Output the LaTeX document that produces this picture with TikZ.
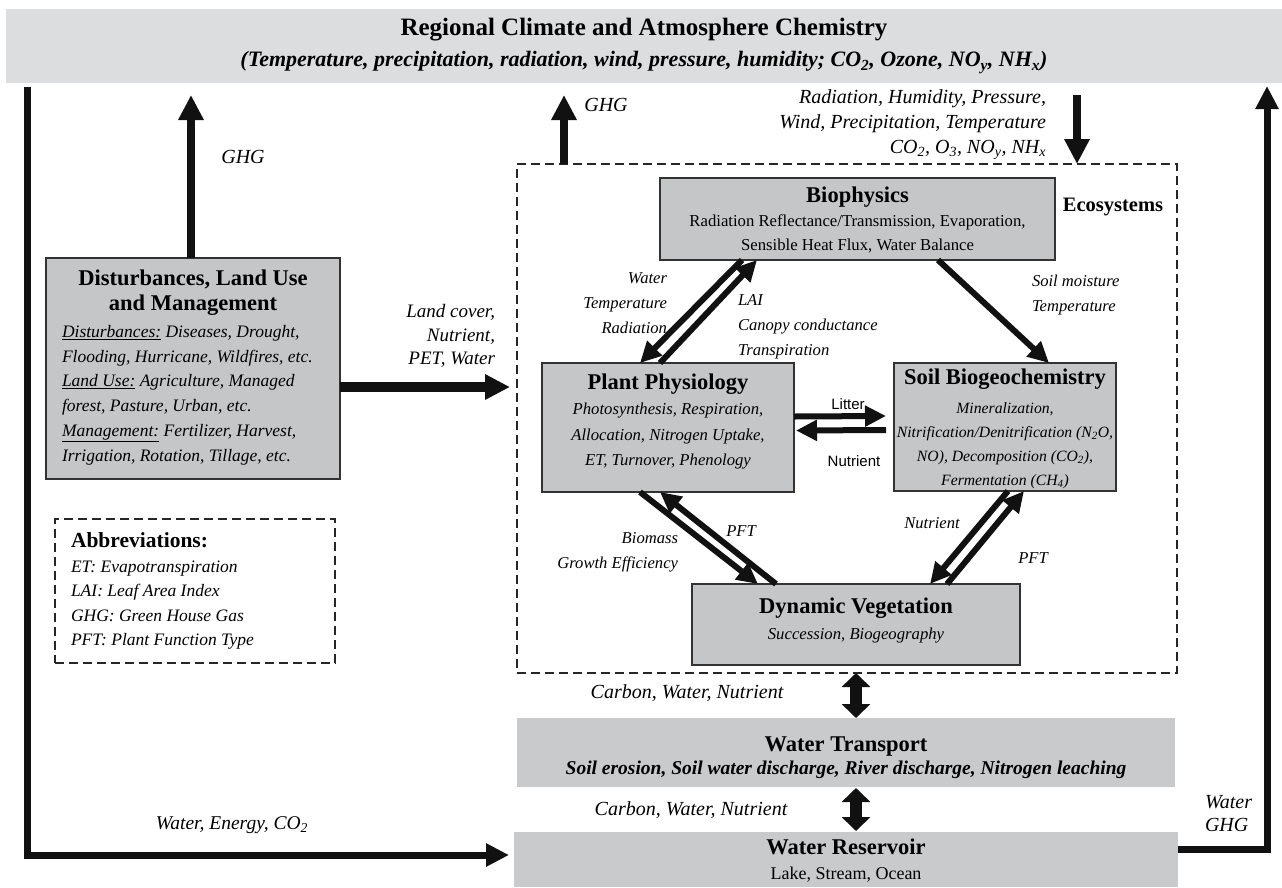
\documentclass[tikz,border=0pt]{standalone}
\usepackage{fontspec}
\setmainfont{Liberation Serif}
\setsansfont{Liberation Sans}
\usetikzlibrary{arrows.meta,calc}
\definecolor{bannergray}{HTML}{DCDDDF}
\definecolor{boxgray}{HTML}{C5C6C8}
\definecolor{flatgray}{HTML}{C9CACC}
\definecolor{ink}{HTML}{111111}
\newcommand{\fsz}[2]{\fontsize{#1}{#2}\selectfont}
\begin{document}
\begin{tikzpicture}[x=1pt,y=-1pt,
  box/.style={draw=black!80, line width=1.6pt, fill=boxgray, inner sep=0pt, outer sep=0pt},
  flat/.style={fill=flatgray, inner sep=0pt, outer sep=0pt},
  dashbox/.style={draw=black!85, line width=1.3pt, dash pattern=on 9pt off 5pt, inner sep=0pt, outer sep=0pt},
  txt/.style={inner sep=0pt, outer sep=0pt},
  lbl/.style={inner sep=0pt, outer sep=0pt, font=\fsz{16.6}{25}\itshape},
  olbl/.style={inner sep=0pt, outer sep=0pt, font=\fsz{20}{25}\itshape},
  fatarrow/.style={draw=ink, line width=8pt, -{Triangle[length=25pt,width=24pt]}},
  loopline/.style={draw=ink, line width=7pt, line cap=butt, line join=miter},
  thinarrow/.style={draw=ink, line width=6pt, -{Triangle[length=21pt,width=20pt]}},
  dblarrow/.style={draw=ink, line width=12pt, {Triangle[length=14pt,width=28pt]}-{Triangle[length=14pt,width=28pt]}},
]
\useasboundingbox (0,0) rectangle (1282,887);

% banner
\node[fill=bannergray, minimum width=1276pt, minimum height=74pt, inner sep=0pt, align=center,
      font=\fsz{25}{31}] (banner) at (644,46)
  {{\bfseries Regional Climate and Atmosphere Chemistry}\\
   {\fsz{22}{31}\bfseries\itshape (Temperature, precipitation, radiation, wind, pressure, humidity; CO\textsubscript{2}, Ozone, NO\textsubscript{y}, NH\textsubscript{x})}};

% ecosystems dashed frame
\node[dashbox, minimum width=660pt, minimum height=509pt] (eco) at (847,418.5) {};
\node[txt, font=\fsz{20.5}{24}\bfseries] (ecolbl) at (1113,207) {Ecosystems};

% boxes inside ecosystems
\node[box, minimum width=395pt, minimum height=82pt] (bio) at (857.5,219) {};
\node[txt, align=center, font=\fsz{16.7}{24}] (biotxt) at (857.5,220)
  {{\fsz{22.5}{24}\bfseries Biophysics}\\
   Radiation Reflectance/Transmission, Evaporation,\\
   Sensible Heat Flux, Water Balance};

\node[box, minimum width=252pt, minimum height=129pt] (pp) at (668,427.5) {};
\node[txt, align=center, font=\fsz{16.7}{25.6}\itshape] (pptxt) at (668,421.5)
  {{\fsz{22.5}{25.6}\upshape\bfseries Plant Physiology}\\
   Photosynthesis, Respiration,\\
   Allocation, Nitrogen Uptake,\\
   ET, Turnover, Phenology};

\node[box, minimum width=222pt, minimum height=128pt] (sb) at (1005,427) {};
\node[txt, align=center, font=\fsz{15.7}{24}\itshape] (sbtxt) at (1005,428.5)
  {{\fsz{22.5}{24}\upshape\bfseries Soil Biogeochemistry}\\[5pt]
   Mineralization,\\
   Nitrification/Denitrification (N\textsubscript{2}O,\\
   NO), Decomposition (CO\textsubscript{2}),\\
   Fermentation (CH\textsubscript{4})};

\node[box, minimum width=328pt, minimum height=81pt] (dv) at (856,624.5) {};
\node[txt, align=center, font=\fsz{16.7}{26}\itshape] (dvtxt) at (856,620)
  {{\fsz{22.5}{26}\upshape\bfseries Dynamic Vegetation}\\
   Succession, Biogeography};

% disturbances box
\node[box, minimum width=294pt, minimum height=221pt] (db) at (193,368.5) {};
\node[txt, align=center, font=\fsz{22.5}{25}\bfseries] (dbtitle) at (193,292.5)
  {Disturbances, Land Use\\ and Management};
\node[txt, align=left, anchor=west, font=\fsz{17.5}{24.8}\itshape] (dbbody) at (62,395)
  {\underline{Disturbances:} Diseases, Drought,\\
   Flooding, Hurricane, Wildfires, etc.\\
   \underline{Land Use:} Agriculture, Managed\\
   forest, Pasture, Urban, etc.\\
   \underline{Management:} Fertilizer, Harvest,\\
   Irrigation, Rotation, Tillage, etc.};

% abbreviations
\node[dashbox, minimum width=280pt, minimum height=144pt] (abbr) at (195,591) {};
\node[txt, align=left, anchor=west, font=\fsz{17.5}{24.5}\itshape] (abbrtxt) at (71,591)
  {{\fsz{21.5}{24.5}\upshape\bfseries Abbreviations:}\\
   ET: Evapotranspiration\\
   LAI: Leaf Area Index\\
   GHG: Green House Gas\\
   PFT: Plant Function Type};

% water transport and reservoir
\node[flat, minimum width=658pt, minimum height=69pt] (wt) at (846,752.5) {};
\node[txt, align=center, font=\fsz{22.5}{23}\bfseries] (wttxt) at (846,758)
  {Water Transport\\ {\fsz{19.5}{23}\itshape Soil erosion, Soil water discharge, River discharge, Nitrogen leaching}};
\node[flat, minimum width=664pt, minimum height=55pt] (res) at (846,859.5) {};
\node[txt, align=center, font=\fsz{18}{25}] (restxt) at (846,860.5)
  {{\fsz{22.5}{25}\bfseries Water Reservoir}\\ Lake, Stream, Ocean};

% coordinates for free ends
\coordinate (ltop) at (27,87);
\coordinate (rtop) at (1267,86);
\coordinate (ghgltop) at (191,95);
\coordinate (ghgmtop) at (564,95);
\coordinate (indown) at (1077,95);

% outer loops
\draw[loopline, -{Triangle[length=23pt,width=22pt]}, shorten >=5pt]
  (ltop) |- ($(res.west)+(0,-4.5)$);
\draw[loopline, -{Triangle[length=23pt,width=22pt]}]
  ($(res.east)+(0,-10.5)$) -| (rtop);

% GHG arrows
\draw[fatarrow] (db.north -| ghgltop) -- (ghgltop);
\draw[fatarrow] (eco.north -| ghgmtop) -- (ghgmtop);
\draw[fatarrow] (indown) -- (eco.north -| indown);

% disturbances to ecosystems
\draw[draw=ink, line width=10pt, -{Triangle[length=25pt,width=24pt]}, shorten >=7pt]
  (db.east |- 0,387) -- (eco.west |- 0,387);

% biophysics <-> plant physiology
\draw[thinarrow] ($(bio.south west)+(82,0)$) -- ($(pp.north west)+(98,0)$);
\draw[thinarrow] ($(pp.north west)+(118,0)$) -- ($(bio.south west)+(97,0)$);
% biophysics -> soil
\draw[thinarrow] ($(bio.south west)+(278,0)$) -- ($(sb.north west)+(155,0)$);
% litter / nutrient
\draw[thinarrow] ($(pp.east)+(0,-11)$) -- ($(sb.west)+(-8,-11)$);
\draw[thinarrow] ($(sb.west)+(-8,3)$) -- ($(pp.east)+(2,3)$);
% plant physiology <-> dynamic vegetation
\draw[thinarrow] ($(pp.south west)+(98,0)$) -- ($(dv.north west)+(66,0)$);
\draw[thinarrow] ($(dv.north west)+(84,0)$) -- ($(pp.south west)+(118,0)$);
% soil <-> dynamic vegetation
\draw[thinarrow] ($(sb.south west)+(114,0)$) -- ($(dv.north west)+(238,0)$);
\draw[thinarrow] ($(dv.north west)+(255,0)$) -- ($(sb.south west)+(130,0)$);

% vertical exchange arrows
\draw[dblarrow] (eco.south -| dv.south) -- (wt.north -| dv.south);
\draw[dblarrow] ($(wt.south)+(10,1)$) -- ($(res.north)+(10,-1)$);

% labels
\node[olbl] (ghgl) at (243,157) {GHG};
\node[olbl] (ghgm) at (606,105) {GHG};
\node[olbl, align=right, anchor=east] (climin) at (1046,125)
  {Radiation, Humidity, Pressure,\\ Wind, Precipitation, Temperature\\ CO\textsubscript{2}, O\textsubscript{3}, NO\textsubscript{y}, NH\textsubscript{x}};
\node[lbl, align=right, anchor=east] (wtr) at (667,303) {Water\\ Temperature\\ Radiation};
\node[lbl, align=left, anchor=west] (lai) at (738,327) {LAI\\ Canopy conductance\\ Transpiration};
\node[lbl, align=left, anchor=west] (smt) at (1032,295.5) {Soil moisture\\ Temperature};
\node[txt, font=\fsz{15}{18}\sffamily] (litter) at (848,404) {Litter};
\node[txt, font=\fsz{15}{18}\sffamily] (nutr) at (854,461) {Nutrient};
\node[lbl, align=right, anchor=east] (biom) at (678,552.5) {Biomass\\ Growth Efficiency};
\node[lbl] (pft1) at (741,531) {PFT};
\node[lbl] (nutr2) at (932,523) {Nutrient};
\node[lbl] (pft2) at (1033,558) {PFT};
\node[txt, align=right, anchor=east, font=\fsz{19}{23.5}\itshape] (lc) at (495,336)
  {Land cover,\\ Nutrient,\\ PET, Water};
\node[olbl] (cwn1) at (687,693) {Carbon, Water, Nutrient};
\node[olbl] (cwn2) at (691,810) {Carbon, Water, Nutrient};
\node[olbl, align=left, anchor=west, font=\fsz{20}{23}\itshape] (wghg) at (1205,813.5) {Water\\ GHG};
\node[txt, font=\fsz{19.5}{23}\itshape] (wec) at (232,825) {Water, Energy, CO\textsubscript{2}};
\end{tikzpicture}
\end{document}
